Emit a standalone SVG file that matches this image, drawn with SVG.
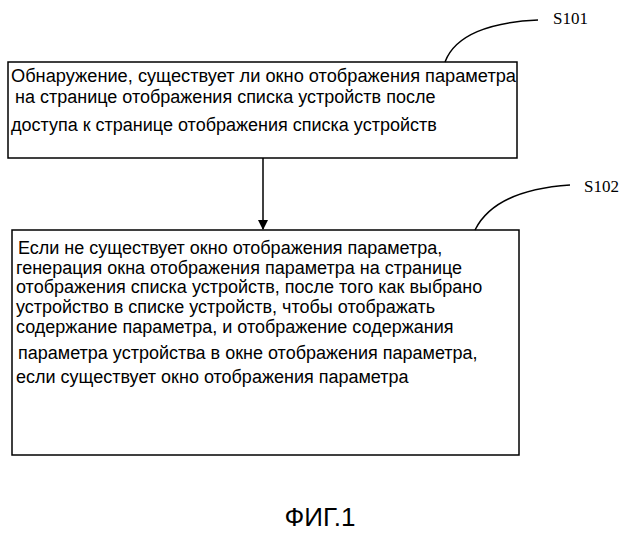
<svg xmlns="http://www.w3.org/2000/svg" width="640" height="533" viewBox="0 0 640 533">
<style>
.b{fill:#fff;stroke:#000;stroke-width:1.5}
.t{font-family:"Liberation Sans",Arial,sans-serif;font-size:18px;fill:#000}
.l{font-family:"Liberation Serif","Times New Roman",serif;font-size:17px;fill:#000}
.c{fill:none;stroke:#000;stroke-width:1.5}
</style>
<defs><marker id="a" markerWidth="10" markerHeight="10" refX="9" refY="5" orient="auto" markerUnits="userSpaceOnUse"><path d="M0,0 L10,5 L0,10 Z" fill="#000"/></marker></defs>
<g id="n1">
<rect class="b" x="8" y="62" width="509" height="96"/>
<text class="t" x="11" y="82" textLength="505" lengthAdjust="spacingAndGlyphs">Обнаружение, существует ли окно отображения параметра</text>
<text class="t" x="15" y="103">на странице отображения списка устройств после</text>
<text class="t" x="11" y="131">доступа к странице отображения списка устройств</text>
</g>
<g id="n2">
<rect class="b" x="12" y="230" width="507" height="225"/>
<text class="t" x="18" y="254">Если не существует окно отображения параметра,</text>
<text class="t" x="16" y="274">генерация окна отображения параметра на странице</text>
<text class="t" x="16" y="293">отображения списка устройств, после того как выбрано</text>
<text class="t" x="16" y="313">устройство в списке устройств, чтобы отображать</text>
<text class="t" x="16" y="333">содержание параметра, и отображение содержания</text>
<text class="t" x="18" y="359">параметра устройства в окне отображения параметра,</text>
<text class="t" x="16" y="383">если существует окно отображения параметра</text>
</g>
<g id="s101"><text class="l" x="553" y="24">S101</text></g>
<g id="s102"><text class="l" x="584" y="192">S102</text></g>
<g id="connectors">
<line class="c" x1="263" y1="158" x2="263" y2="229" marker-end="url(#a)"/>
<path class="c" d="M445,62 C455,35 490,22 538,20"/>
<path class="c" d="M475,230 C490,200 525,188 570,185"/>
</g>
<text x="320" y="526" text-anchor="middle" font-family="Liberation Sans,Arial,sans-serif" font-size="26">ФИГ.1</text>
</svg>
